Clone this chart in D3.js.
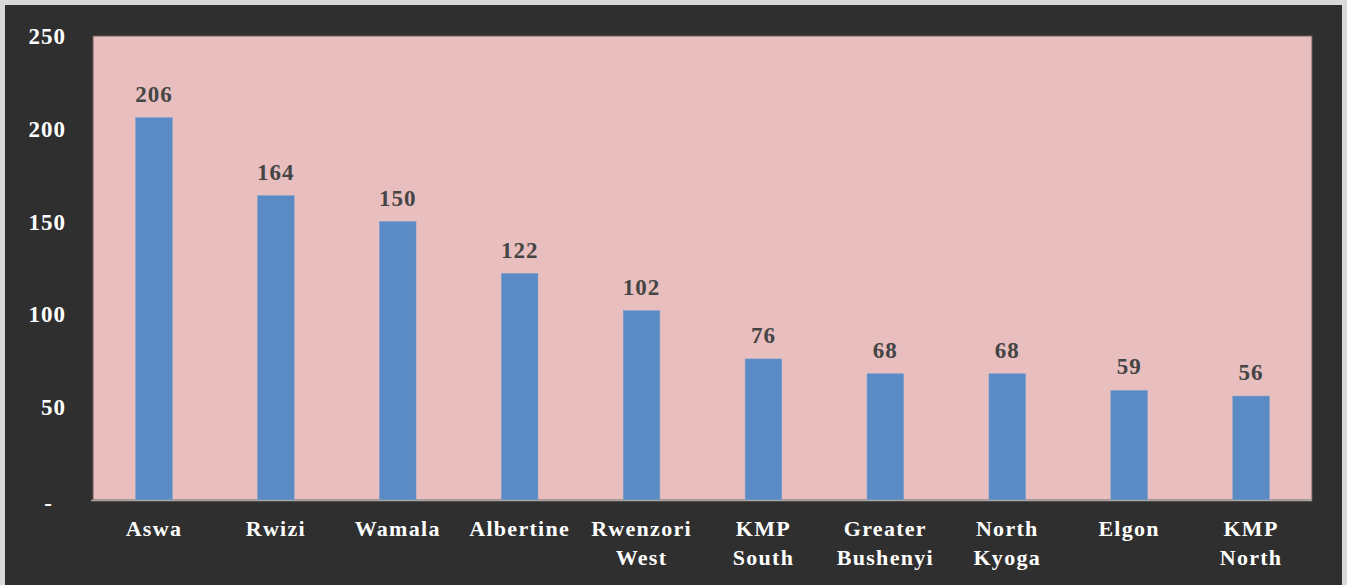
<!DOCTYPE html>
<html>
<head>
<meta charset="utf-8">
<script src="https://cdn.jsdelivr.net/npm/d3@7"></script>
<style>
  html, body { margin: 0; padding: 0; background: #d9d9d9; }
  svg { display: block; }
  svg text { font-family: "Liberation Serif", "Times New Roman", serif !important; font-weight: bold; }
</style>
</head>
<body>
<svg id="chart" width="1347" height="585"></svg>
<script>
// Catchment names (two-line labels) and their counts
const categories = [
  ["Aswa"], ["Rwizi"], ["Wamala"], ["Albertine"], ["Rwenzori", "West"],
  ["KMP", "South"], ["Greater", "Bushenyi"], ["North", "Kyoga"], ["Elgon"], ["KMP", "North"]
];
const values = [206, 164, 150, 122, 102, 76, 68, 68, 59, 56];
const yTicks = [0, 50, 100, 150, 200, 250];
const yTickLabels = ["-", "50", "100", "150", "200", "250"];

const svg = d3.select("#chart");

// dark frame
svg.append("rect").attr("x", 5).attr("y", 5).attr("width", 1337).attr("height", 580)
  .attr("fill", "#2f2f2f");

const plot = { left: 93, right: 1312, top: 36, bottom: 500 };

const keys = categories.map(c => c.join(" "));
const x = d3.scaleBand().domain(keys).range([plot.left, plot.right]).paddingInner(0.7).paddingOuter(0.35);
const y = d3.scaleLinear().domain([0, 250]).range([plot.bottom, plot.top]);

// plot background
svg.append("rect")
  .attr("x", plot.left).attr("y", plot.top)
  .attr("width", plot.right - plot.left).attr("height", plot.bottom - plot.top)
  .attr("fill", "#e8bebe").attr("stroke", "#6e5c5c").attr("stroke-width", 1);

// bars
svg.append("g").selectAll("rect").data(values).join("rect")
  .attr("x", (d, i) => x(keys[i]))
  .attr("y", d => y(d))
  .attr("width", x.bandwidth())
  .attr("height", d => y(0) - y(d))
  .attr("fill", "#5b8bc4")
  .attr("stroke", "#6f9bd0").attr("stroke-width", 0.5);

// value labels
svg.append("g").selectAll("text").data(values).join("text")
  .attr("x", (d, i) => x(keys[i]) + x.bandwidth() / 2)
  .attr("y", d => y(d) - 16)
  .attr("text-anchor", "middle")
  .attr("fill", "#454545")
  .attr("font-size", 23)
  .attr("letter-spacing", 1)
  .text(d => d);

// baseline
svg.append("line")
  .attr("x1", plot.left - 2).attr("x2", plot.right)
  .attr("y1", plot.bottom + 0.5).attr("y2", plot.bottom + 0.5)
  .attr("stroke", "#a6a6a6").attr("stroke-width", 1.5);

// y axis labels
const yAxis = d3.axisLeft(y).tickValues(yTicks)
  .tickFormat((d, i) => yTickLabels[i]).tickSize(0).tickPadding(27);
const gy = svg.append("g").attr("transform", `translate(${plot.left},0)`).call(yAxis);
gy.select(".domain").remove();
gy.selectAll("text")
  .attr("fill", "#ffffff").attr("font-size", 23)
  .attr("letter-spacing", 1)
  .attr("dy", "0.33em");
gy.selectAll(".tick").filter(d => d === 0).select("text").attr("dx", -13).attr("dy", "0.45em");

// x axis labels (multi-line)
const gx = svg.append("g");
categories.forEach((lines, i) => {
  const cx = x(keys[i]) + x.bandwidth() / 2;
  const t = gx.append("text")
    .attr("x", cx)
    .attr("y", 536)
    .attr("text-anchor", "middle")
    .attr("fill", "#ffffff")
    .attr("font-size", 22)
    .attr("letter-spacing", 1.3);
  lines.forEach((ln, j) => {
    t.append("tspan").attr("x", cx)
      .attr("dy", j === 0 ? 0 : 29).text(ln);
  });
});
</script>
</body>
</html>
